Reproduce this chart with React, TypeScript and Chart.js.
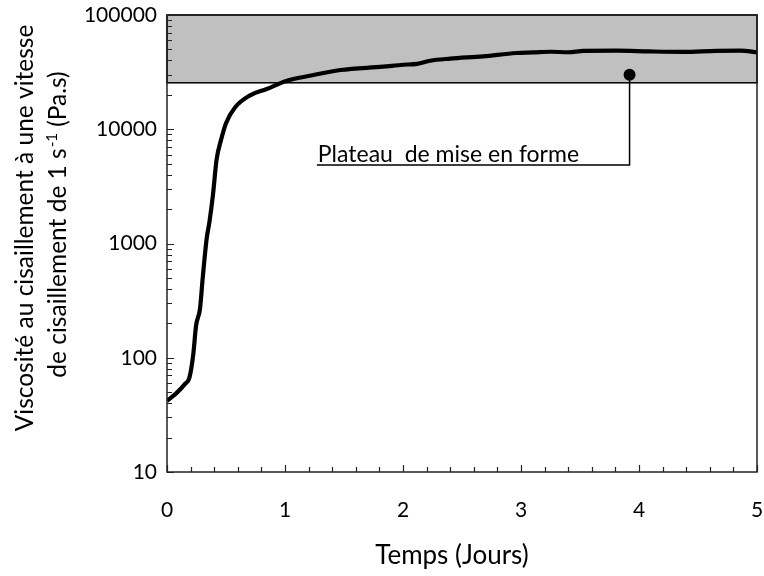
import React, { useEffect, useRef } from 'react';
import { Chart, registerables } from 'chart.js';

Chart.register(...registerables);

// ---- Data ----
const DAYS = [
  0, 0.08, 0.153, 0.19, 0.223, 0.246, 0.28, 0.302, 0.336, 0.36, 0.39, 0.42, 0.46, 0.5,
  0.576, 0.7, 0.845, 1.01, 1.21, 1.47, 1.83, 2.0, 2.12, 2.23, 2.4, 2.68, 2.96, 3.1,
  3.25, 3.4, 3.53, 3.81, 4.09, 4.38, 4.66, 4.86, 5.0,
];
const VISCOSITY = [
  42, 49, 59, 67, 108, 190, 270, 490, 1100, 1550, 2700, 5400, 8200, 11300,
  15500, 19700, 22500, 26500, 29400, 33000, 35300, 36700, 37300, 39800, 41500, 43500, 46500, 47000,
  47700, 47200, 48500, 48700, 48000, 47600, 48600, 48700, 47100,
];
const X_TICKS = [0, 1, 2, 3, 4, 5];
const X_MINOR_STEP = 0.2;
const Y_TICKS = [10, 100, 1000, 10000, 100000];
const PLATEAU_MIN = 25500;
const PLATEAU_MAX = 100000;
const MARKER_X = 3.92;
const MARKER_Y = 30000;
const LEADER_Y = 4870;
const LEADER_END_X = 1.27;
const ANNOTATION = 'Plateau  de mise en forme';
const X_TITLE = 'Temps (Jours)';
const Y_TITLE_1 = 'Viscosité au cisaillement à une vitesse';
const Y_TITLE_2 = ['de cisaillement de 1 s', '-1', ' (Pa.s)'];

const FONT = 'Lato';
const AXIS_COLOR = '#222';

const decor = {
  id: 'decor',
  beforeDatasetsDraw(chart: any) {
    const { ctx, chartArea: a, scales } = chart;
    const x = scales.x;
    const y = scales.y;
    ctx.save();
    // plateau band
    const top = y.getPixelForValue(PLATEAU_MAX);
    const bot = y.getPixelForValue(PLATEAU_MIN);
    const x0 = x.getPixelForValue(0);
    const x1 = x.getPixelForValue(5);
    ctx.fillStyle = '#c0c0c0';
    ctx.fillRect(x0, top, x1 - x0, bot - top);
    ctx.strokeStyle = '#000';
    ctx.lineWidth = 1.5;
    ctx.strokeRect(x0, top, x1 - x0, bot - top);

    // tick marks (inward)
    ctx.strokeStyle = AXIS_COLOR;
    ctx.lineWidth = 1.2;
    ctx.beginPath();
    for (let e = 1; e <= 5; e++) {
      for (let k = 1; k <= 9; k++) {
        const v = k * Math.pow(10, e);
        if (v > 100000) break;
        const py = Math.round(y.getPixelForValue(v)) + 0.5;
        const len = k === 1 ? 7 : 5;
        ctx.moveTo(a.left, py);
        ctx.lineTo(a.left + len, py);
      }
    }
    const nMinor = Math.round(5 / X_MINOR_STEP);
    for (let i = 0; i <= nMinor; i++) {
      const v = i * X_MINOR_STEP;
      const px = Math.round(x.getPixelForValue(v)) + 0.5;
      const len = i % 5 === 0 ? 7 : 5;
      ctx.moveTo(px, a.bottom);
      ctx.lineTo(px, a.bottom - len);
    }
    ctx.stroke();
    ctx.restore();
  },
  afterDatasetsDraw(chart: any) {
    const { ctx, chartArea: a, scales } = chart;
    const x = scales.x;
    const y = scales.y;
    ctx.save();
    // frame
    ctx.strokeStyle = AXIS_COLOR;
    ctx.lineWidth = 1.5;
    ctx.strokeRect(a.left, a.top, a.right - a.left, a.bottom - a.top);

    // annotation marker + leader
    const mx = x.getPixelForValue(MARKER_X);
    const my = y.getPixelForValue(MARKER_Y);
    const ly = y.getPixelForValue(LEADER_Y);
    const lx = x.getPixelForValue(LEADER_END_X);
    ctx.strokeStyle = '#000';
    ctx.lineWidth = 1.5;
    ctx.beginPath();
    ctx.moveTo(mx, my);
    ctx.lineTo(mx, ly);
    ctx.lineTo(lx, ly);
    ctx.stroke();
    ctx.fillStyle = '#000';
    ctx.beginPath();
    ctx.arc(mx, my, 6, 0, Math.PI * 2);
    ctx.fill();

    ctx.font = `23px ${FONT}`;
    ctx.textAlign = 'left';
    ctx.textBaseline = 'alphabetic';
    ctx.fillText(ANNOTATION, lx + 1, ly - 3);

    // x title
    ctx.textAlign = 'center';
    ctx.font = `26px ${FONT}`;
    ctx.fillText(X_TITLE, 452, 564);

    // y title, line 1
    ctx.font = `24.5px ${FONT}`;
    ctx.translate(33, 228);
    ctx.rotate(-Math.PI / 2);
    ctx.fillText(Y_TITLE_1, 0, 0);
    ctx.restore();

    // y title, line 2 with superscript
    ctx.save();
    ctx.fillStyle = '#000';
    ctx.textBaseline = 'alphabetic';
    ctx.textAlign = 'left';
    ctx.translate(66, 225);
    ctx.rotate(-Math.PI / 2);
    const big = `24.5px ${FONT}`;
    const small = `15px ${FONT}`;
    ctx.font = big;
    const w1 = ctx.measureText(Y_TITLE_2[0]).width;
    const w3 = ctx.measureText(Y_TITLE_2[2]).width;
    ctx.font = small;
    const w2 = ctx.measureText(Y_TITLE_2[1]).width;
    let cx = -(w1 + w2 + w3) / 2;
    ctx.font = big;
    ctx.fillText(Y_TITLE_2[0], cx, 0);
    cx += w1 + 1;
    ctx.font = small;
    ctx.fillText(Y_TITLE_2[1], cx, -9);
    cx += w2;
    ctx.font = big;
    ctx.fillText(Y_TITLE_2[2], cx, 0);
    ctx.restore();
  },
};

const zeroPad = (s: any) => {
  s.paddingLeft = 0;
  s.paddingRight = 0;
  s.paddingTop = 0;
  s.paddingBottom = 0;
};

export default function App() {
  const ref = useRef<HTMLCanvasElement>(null);
  useEffect(() => {
    document.body.style.margin = '0';
    const canvas = ref.current!;
    Chart.defaults.font.family = FONT;
    const chart = new Chart(canvas, {
      type: 'line',
      data: {
        datasets: [
          {
            data: DAYS.map((d, i) => ({ x: d, y: VISCOSITY[i] })),
            borderColor: '#000',
            borderWidth: 4.2,
            pointRadius: 0,
            cubicInterpolationMode: 'monotone',
            fill: false,
          },
        ],
      },
      options: {
        responsive: false,
        animation: false,
        devicePixelRatio: 1,
        layout: { padding: { top: 15, right: 7, left: 0, bottom: 0 } },
        plugins: { legend: { display: false }, tooltip: { enabled: false } },
        scales: {
          x: {
            type: 'linear',
            min: 0,
            max: 5,
            grid: { display: false, drawTicks: false },
            border: { display: false },
            ticks: {
              color: '#000',
              font: { family: FONT, size: 21 },
              padding: 26,
              callback: (v: any) => String(v),
            },
            afterBuildTicks: (s: any) => {
              s.ticks = X_TICKS.map((v) => ({ value: v }));
            },
            afterFit: (s: any) => {
              s.height = 104;
              zeroPad(s);
            },
          },
          y: {
            type: 'logarithmic',
            min: 10,
            max: 100000,
            grid: { display: false, drawTicks: false },
            border: { display: false },
            ticks: {
              color: '#000',
              font: { family: FONT, size: 21 },
              padding: 10,
              autoSkip: false,
              callback: (v: any) => String(v),
            },
            afterBuildTicks: (s: any) => {
              s.ticks = Y_TICKS.map((v) => ({ value: v }));
            },
            afterFit: (s: any) => {
              s.width = 167;
              zeroPad(s);
            },
          },
        },
      },
      plugins: [decor],
    } as any);
    return () => chart.destroy();
  }, []);
  return (
    <div style={{ width: 764, height: 576 }}>
      <canvas ref={ref} width={764} height={576} style={{ display: 'block' }} />
    </div>
  );
}
